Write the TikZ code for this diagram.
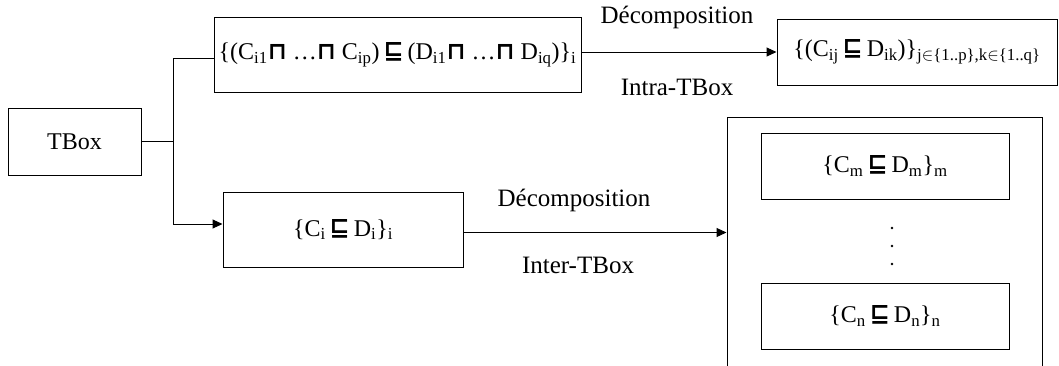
\documentclass[tikz,border=0pt]{standalone}
\usepackage{fontspec}
\setmainfont{Liberation Serif}
\newfontfamily\symf{DejaVu Sans}
\usetikzlibrary{arrows.meta,calc}
\newcommand{\sqs}{\,{\symf\bfseries\raisebox{0.05em}{⊑}}\,}
\newcommand{\sqc}{{\symf\bfseries ⊓}}
\newcommand{\sbs}[1]{\textsubscript{#1}}
\begin{document}
\begin{tikzpicture}[x=1pt,y=-1pt,
  every node/.style={font=\fontsize{24}{28}\selectfont},
  box/.style={draw,line width=1pt,rectangle,inner sep=0pt},
  lab/.style={inner sep=0pt,font=\fontsize{25}{30}\selectfont},
  conn/.style={line width=1pt},
  arr/.style={line width=1pt,-{Triangle[length=10pt,width=9pt]}}]
\useasboundingbox (0,0) rectangle (1059,365);
\clip (0,0) rectangle (1059,365);
\node[box,minimum width=133pt,minimum height=67pt] (tbox) at (74.5,141.5) {TBox};
\node[box,minimum width=367pt,minimum height=75pt] (top) at (397.5,54.5)
  {\{(C\sbs{i1}\sqc\ \ldots\sqc\ C\sbs{ip})\sqs(D\sbs{i1}\sqc\ \ldots\sqc\ D\sbs{iq})\}\sbs{i}};
\node[box,minimum width=280pt,minimum height=66pt] (tr) at (917,52)
  {\{(C\sbs{ij}\sqs D\sbs{ik})\}\sbs{j$\in$\{1..p\},k$\in$\{1..q\}}};
\node[box,minimum width=240pt,minimum height=75pt] (bl) at (343,229.5)
  {\{C\sbs{i}\sqs D\sbs{i}\}\sbs{i}};
\node[box,minimum width=315pt,minimum height=263pt] (big) at (884.5,248.5) {};
\node[box,minimum width=248pt,minimum height=66pt] (in1) at (885,166)
  {\{C\sbs{m}\sqs D\sbs{m}\}\sbs{m}};
\node[box,minimum width=248pt,minimum height=66pt] (in2) at (885,316)
  {\{C\sbs{n}\sqs D\sbs{n}\}\sbs{n}};
\foreach \yy/\nm in {228/d1,246/d2,264/d3}
  \fill (892,\yy) circle (1.4pt) coordinate (\nm);
\coordinate (fork) at ($(tbox.east)+(32,0)$);
\draw[conn] (tbox.east) -- (fork);
\draw[conn] (fork) |- ([yshift=-3.5pt]top.west);
\draw[arr] (fork) |- ([yshift=5.5pt]bl.west);
\draw[arr] (top.east |- tr.west) -- (tr.west);
\draw[arr] ([yshift=-3pt]bl.east) -- ([yshift=-3pt]bl.east -| big.west);
\node[lab] (l1) at (677,17) {Décomposition};
\node[lab] (l2) at (677,87) {Intra-TBox};
\node[lab] (l3) at (574,200) {Décomposition};
\node[lab] (l4) at (578,265) {Inter-TBox};
\end{tikzpicture}
\end{document}
